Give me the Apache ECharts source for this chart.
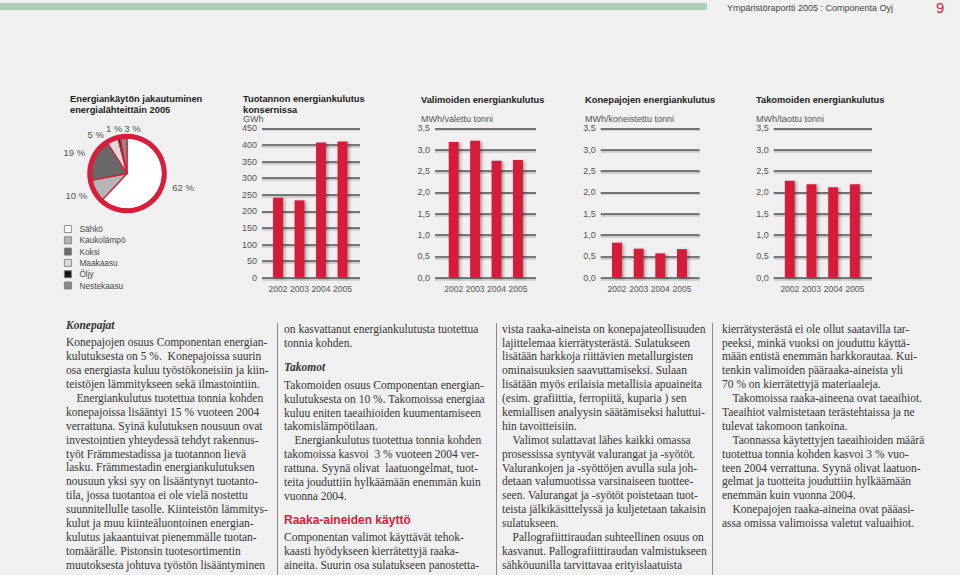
<!DOCTYPE html>
<html>
<head>
<meta charset="utf-8">
<script src="https://cdn.jsdelivr.net/npm/echarts@6/dist/echarts.min.js"></script>
<style>
  html, body { margin:0; padding:0; background:#eff0ef; width:960px; height:575px; overflow:hidden; }
  #main { position:absolute; left:0; top:0; width:960px; height:575px; }
  .hdrbar { position:absolute; left:0; top:3px; width:707px; height:7px; background:#afcdbd; }
  .hdrtxt { position:absolute; left:727px; top:2px; font-family:"Liberation Sans", Arial, sans-serif; font-size:9px; line-height:12px; color:#444; }
  .pageno { position:absolute; left:936px; top:-1px; font-family:"Liberation Sans", Arial, sans-serif; font-size:15px; line-height:18px; color:#d61f3b; }
  .col { position:absolute; font-family:"Liberation Serif", "Times New Roman", serif; font-size:11.5px; line-height:13.9px; color:#363636; white-space:nowrap; }
  .col div { height:13.9px; }
  .col .i { text-indent:10.5px; }
  .col .h { font-weight:bold; font-style:italic; }
  .col .r { font-family:"Liberation Sans", Arial, sans-serif; font-weight:bold; font-size:12px; color:#d61f3b; }
  .sep { position:absolute; top:323px; width:1px; height:252px; background:#8a8a8a; }
</style>
</head>
<body>
<div id="main"></div>
<div class="hdrbar"></div>
<div class="hdrtxt">Ympäristöraportti 2005 : Componenta Oyj</div>
<div class="pageno">9</div>

<div class="sep" style="left:277px"></div>
<div class="sep" style="left:496px"></div>
<div class="sep" style="left:712px"></div>

<div class="col" style="left:66px;top:318.7px">
<div class="h">Konepajat</div>
<div style="margin-top:3.9px">Konepajojen osuus Componentan energian-</div>
<div>kulutuksesta on 5 %.&nbsp; Konepajoissa suurin</div>
<div>osa energiasta kuluu työstökoneisiin ja kiin-</div>
<div>teistöjen lämmitykseen sekä ilmastointiin.</div>
<div class="i">Energiankulutus tuotettua tonnia kohden</div>
<div>konepajoissa lisääntyi 15 % vuoteen 2004</div>
<div>verrattuna. Syinä kulutuksen nousuun ovat</div>
<div>investointien yhteydessä tehdyt rakennus-</div>
<div>työt Främmestadissa ja tuotannon lievä</div>
<div>lasku. Främmestadin energiankulutuksen</div>
<div>nousuun yksi syy on lisääntynyt tuotanto-</div>
<div>tila, jossa tuotantoa ei ole vielä nostettu</div>
<div>suunnitellulle tasolle. Kiinteistön lämmitys-</div>
<div>kulut ja muu kiinteäluontoinen energian-</div>
<div>kulutus jakaantuivat pienemmälle tuotan-</div>
<div>tomäärälle. Pistonsin tuotesortimentin</div>
<div>muutoksesta johtuva työstön lisääntyminen</div>
</div>

<div class="col" style="left:284px;top:322.7px">
<div>on kasvattanut energiankulutusta tuotettua</div>
<div>tonnia kohden.</div>
<div class="h" style="margin-top:10.3px">Takomot</div>
<div style="margin-top:4.1px">Takomoiden osuus Componentan energian-</div>
<div>kulutuksesta on 10 %. Takomoissa energiaa</div>
<div>kuluu eniten taeaihioiden kuumentamiseen</div>
<div>takomislämpötilaan.</div>
<div class="i">Energiankulutus tuotettua tonnia kohden</div>
<div>takomoissa kasvoi&nbsp; 3 % vuoteen 2004 ver-</div>
<div>rattuna. Syynä olivat&nbsp; laatuongelmat, tuot-</div>
<div>teita jouduttiin hylkäämään enemmän kuin</div>
<div>vuonna 2004.</div>
<div class="r" style="margin-top:10.3px">Raaka-aineiden käyttö</div>
<div style="margin-top:3.1px">Componentan valimot käyttävät tehok-</div>
<div>kaasti hyödykseen kierrätettyjä raaka-</div>
<div>aineita. Suurin osa sulatukseen panostetta-</div>
</div>

<div class="col" style="left:502px;top:322.7px">
<div>vista raaka-aineista on konepajateollisuuden</div>
<div>lajittelemaa kierrätysterästä. Sulatukseen</div>
<div>lisätään harkkoja riittävien metallurgisten</div>
<div>ominaisuuksien saavuttamiseksi. Sulaan</div>
<div>lisätään myös erilaisia metallisia apuaineita</div>
<div>(esim. grafiittia, ferropiitä, kuparia ) sen</div>
<div>kemiallisen analyysin säätämiseksi haluttui-</div>
<div>hin tavoitteisiin.</div>
<div class="i">Valimot sulattavat lähes kaikki omassa</div>
<div>prosessissa syntyvät valurangat ja -syötöt.</div>
<div>Valurankojen ja -syöttöjen avulla sula joh-</div>
<div>detaan valumuotissa varsinaiseen tuottee-</div>
<div>seen. Valurangat ja -syötöt poistetaan tuot-</div>
<div>teista jälkikäsittelyssä ja kuljetetaan takaisin</div>
<div>sulatukseen.</div>
<div class="i">Pallografiittiraudan suhteellinen osuus on</div>
<div>kasvanut. Pallografiittiraudan valmistukseen</div>
<div>sähköuunilla tarvittavaa erityislaatuista</div>
</div>

<div class="col" style="left:722px;top:322.7px">
<div>kierrätysterästä ei ole ollut saatavilla tar-</div>
<div>peeksi, minkä vuoksi on jouduttu käyttä-</div>
<div>mään entistä enemmän harkkorautaa. Kui-</div>
<div>tenkin valimoiden pääraaka-aineista yli</div>
<div>70 % on kierrätettyjä materiaaleja.</div>
<div class="i">Takomoissa raaka-aineena ovat taeaihiot.</div>
<div>Taeaihiot valmistetaan terästehtaissa ja ne</div>
<div>tulevat takomoon tankoina.</div>
<div class="i">Taonnassa käytettyjen taeaihioiden määrä</div>
<div>tuotettua tonnia kohden kasvoi 3 % vuo-</div>
<div>teen 2004 verrattuna. Syynä olivat laatuon-</div>
<div>gelmat ja tuotteita jouduttiin hylkäämään</div>
<div>enemmän kuin vuonna 2004.</div>
<div class="i">Konepajojen raaka-aineina ovat pääasi-</div>
<div>assa omissa valimoissa valetut valuaihiot.</div>
</div>

<script>
// ---------- data ----------
const years = ['2002', '2003', '2004', '2005'];
const sourceNames = ['Sähkö', 'Kaukolämpö', 'Koksi', 'Maakaasu', 'Öljy', 'Nestekaasu'];
const sourceShares = [62, 10, 19, 5, 1, 3];
const groupEnergyGWh = [241, 233, 407, 410];
const foundryMWhPerTonne = [3.18, 3.21, 2.74, 2.76];
const machiningMWhPerTonne = [0.82, 0.68, 0.57, 0.67];
const forgingMWhPerTonne = [2.27, 2.19, 2.12, 2.19];
const gwhAxis = { min: 0, max: 450, interval: 50 };
const mwhAxis = { min: 0, max: 3.5, interval: 0.5 };

// ---------- styles / layout ----------
const RED = '#d61f3b';
const sourceColors = ['#ffffff', '#b5b5b5', '#686868', '#dadada', '#161616', '#8a8a8a'];
const SANS = '"Liberation Sans", Arial, sans-serif';
const PLOT_TOP = 128.3, PLOT_H = 149.4;
// small per-label nudges for the pie's outside labels (index -> [dx, dy, align])
const pieLabelNudge = { 0: [3, -3, null], 2: [0, -3, null], 3: [-5, 3, null], 4: [-11, -1, 'left'], 5: [1.5, 0, 'left'] };

const panels = [
  { title: 'Tuotannon energiankulutus\nkonsernissa', unit: 'GWh', tx: 243, titleTop: 93.8,
    lineL: 262, lineR: 360, barL: 267.3, barR: 353.3, data: groupEnergyGWh, axis: gwhAxis, dec: 0 },
  { title: 'Valimoiden energiankulutus', unit: 'MWh/valettu tonni', tx: 421, titleTop: 94.8,
    lineL: 435, lineR: 536, barL: 443, barR: 528.7, data: foundryMWhPerTonne, axis: mwhAxis, dec: 1 },
  { title: 'Konepajojen energiankulutus', unit: 'MWh/koneistettu tonni', tx: 585, titleTop: 94.8,
    lineL: 600.7, lineR: 699.7, barL: 606.2, barR: 692.8, data: machiningMWhPerTonne, axis: mwhAxis, dec: 1 },
  { title: 'Takomoiden energiankulutus', unit: 'MWh/taottu tonni', tx: 756, titleTop: 94.8,
    lineL: 773.7, lineR: 872, barL: 779, barR: 865.7, data: forgingMWhPerTonne, axis: mwhAxis, dec: 1 }
];

const titleFont = { fontFamily: SANS, fontSize: 9.3, fontWeight: 'bold', color: '#222', lineHeight: 10.8 };
const titles = [{
  text: 'Energiankäytön jakautuminen\nenergialähteittäin 2005', left: 70, top: 93.6, padding: 0, textStyle: titleFont
}];
const grids = [], xAxes = [], yAxes = [], series = [];

panels.forEach((p) => {
  titles.push({ text: p.title, left: p.tx, top: p.titleTop - 0.2, padding: 0, textStyle: titleFont });
  titles.push({ text: p.unit, left: p.tx, top: 114.3, padding: 0,
    textStyle: { fontFamily: SANS, fontSize: 9, fontWeight: 'normal', color: '#555', lineHeight: 10 } });

  // soft shadow under the gridlines
  const gS = grids.length;
  grids.push({ left: p.lineL, top: PLOT_TOP + 1.4, width: p.lineR - p.lineL, height: PLOT_H, containLabel: false, outerBoundsMode: 'none' });
  xAxes.push({ gridIndex: gS, type: 'category', data: years, show: false });
  yAxes.push({ gridIndex: gS, type: 'value', min: p.axis.min, max: p.axis.max, interval: p.axis.interval,
    axisLine: { show: false }, axisTick: { show: false }, axisLabel: { show: false },
    splitLine: { show: true, lineStyle: { color: 'rgba(0,0,0,0.16)', width: 2.6 } } });

  // gridlines + y labels
  const gA = grids.length;
  grids.push({ left: p.lineL, top: PLOT_TOP, width: p.lineR - p.lineL, height: PLOT_H, containLabel: false, outerBoundsMode: 'none' });
  xAxes.push({ gridIndex: gA, type: 'category', data: years, show: false });
  yAxes.push({ gridIndex: gA, type: 'value', min: p.axis.min, max: p.axis.max, interval: p.axis.interval,
    axisLine: { show: false }, axisTick: { show: false },
    axisLabel: { fontFamily: SANS, fontSize: 9, color: '#555', margin: 5,
      formatter: v => p.dec ? v.toFixed(1).replace('.', ',') : String(v) },
    splitLine: { show: true, lineStyle: { color: '#555', width: 1.5 } } });

  // bars + year labels
  const gB = grids.length;
  grids.push({ left: p.barL, top: PLOT_TOP, width: p.barR - p.barL, height: PLOT_H, containLabel: false, outerBoundsMode: 'none' });
  xAxes.push({ gridIndex: gB, type: 'category', data: years, boundaryGap: true,
    axisLine: { show: false }, axisTick: { show: false },
    axisLabel: { fontFamily: SANS, fontSize: 8.5, color: '#555', margin: 7, interval: 0 } });
  yAxes.push({ gridIndex: gB, type: 'value', min: p.axis.min, max: p.axis.max, interval: p.axis.interval, show: false,
    splitLine: { show: false } });

  series.push({ type: 'bar', xAxisIndex: gB, yAxisIndex: gB, data: p.data, barWidth: 10,
    silent: true, animation: false,
    itemStyle: { color: RED, shadowColor: 'rgba(0,0,0,0.3)', shadowBlur: 3, shadowOffsetX: 2, shadowOffsetY: 1 } });
});

// pie
series.push({
  type: 'pie', center: [127, 173.5], radius: [0, 35.5], startAngle: 90, clockwise: true,
  avoidLabelOverlap: false, animation: false, silent: true,
  data: sourceNames.map((n, i) => ({ name: n, value: sourceShares[i], itemStyle: { color: sourceColors[i] } })),
  itemStyle: { borderColor: RED, borderWidth: 1.3 },
  label: { show: true, position: 'outside', formatter: '{c} %', fontFamily: SANS, fontSize: 9.5, color: '#555', distanceToLabelLine: 0 },
  labelLine: { show: false, length: 10, length2: 0 },
  labelLayout: function (params) {
    const n = pieLabelNudge[params.dataIndex];
    if (!n) return {};
    const r = { dx: n[0], dy: n[1] };
    if (n[2]) r.align = n[2];
    return r;
  }
});
series.push({
  type: 'pie', center: [127, 173.5], radius: [35, 39.8], silent: true, animation: false,
  label: { show: false }, labelLine: { show: false },
  data: [{ value: 1, name: '', itemStyle: { color: RED } }]
});

const option = {
  backgroundColor: 'transparent',
  animation: false,
  title: titles,
  grid: grids,
  xAxis: xAxes,
  yAxis: yAxes,
  legend: {
    data: sourceNames, orient: 'vertical', left: 64, top: 223.5, padding: 0,
    icon: 'rect', itemWidth: 7, itemHeight: 7, itemGap: 0.3,
    itemStyle: { borderColor: '#777', borderWidth: 0.8 },
    textStyle: { fontFamily: SANS, fontSize: 8.3, color: '#4a4a4a', lineHeight: 11, padding: [0, 0, 0, 3] },
    selectedMode: false
  },
  series: series
};

const chart = echarts.init(document.getElementById('main'), null, { renderer: 'svg', width: 960, height: 575 });
chart.setOption(option);
</script>
</body>
</html>
